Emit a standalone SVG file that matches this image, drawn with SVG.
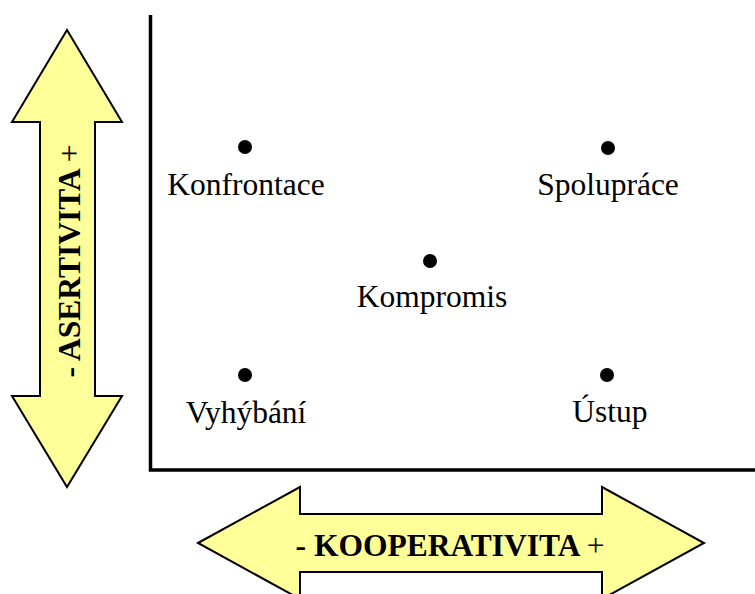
<svg xmlns="http://www.w3.org/2000/svg" width="755" height="594" viewBox="0 0 755 594">
  <style>
    .arrow { fill: #FFFF99; stroke: #000; stroke-width: 2; stroke-linejoin: miter; }
    .axis { fill: none; stroke: #000; stroke-width: 3.5; }
    .dot { fill: #000; }
    .label { font-family: "Liberation Serif", "Times New Roman", serif; font-size: 31.5px; fill: #000; text-anchor: middle; }
    .axis-title { font-family: "Liberation Serif", "Times New Roman", serif; font-size: 31.5px; font-weight: bold; fill: #000; text-anchor: middle; }
    .plus { font-weight: normal; }
  </style>
  <rect width="755" height="594" fill="#fff"/>

  <!-- axes of the grid -->
  <g id="connectors">
    <polyline class="axis" points="150.5,15 150.5,470 755,470"/>
  </g>

  <!-- assertiveness double arrow -->
  <g id="asertivita">
    <polygon class="arrow" points="67,30 122,122 95,122 95,396 122,396 67,487 12,396 40,396 40,122 12,122"/>
    <text class="axis-title" transform="translate(80,261) rotate(-90)">- ASERTIVITA <tspan class="plus">+</tspan></text>
  </g>

  <!-- cooperativeness double arrow -->
  <g id="kooperativita">
    <polygon class="arrow" points="198,543 300,487 300,514 602,514 602,487 704,543 602,599 602,572 300,572 300,599"/>
    <text class="axis-title" x="450" y="556">- KOOPERATIVITA <tspan class="plus">+</tspan></text>
  </g>

  <g id="konfrontace">
    <circle class="dot" cx="245" cy="147" r="7"/>
    <text class="label" x="246" y="195">Konfrontace</text>
  </g>

  <g id="spoluprace">
    <circle class="dot" cx="608" cy="148" r="7"/>
    <text class="label" x="608" y="195">Spolupráce</text>
  </g>

  <g id="kompromis">
    <circle class="dot" cx="430" cy="261" r="7"/>
    <text class="label" x="432" y="307">Kompromis</text>
  </g>

  <g id="vyhybani">
    <circle class="dot" cx="245" cy="375" r="7"/>
    <text class="label" x="246" y="423">Vyhýbání</text>
  </g>

  <g id="ustup">
    <circle class="dot" cx="607" cy="375" r="7"/>
    <text class="label" x="610" y="422">Ústup</text>
  </g>
</svg>
